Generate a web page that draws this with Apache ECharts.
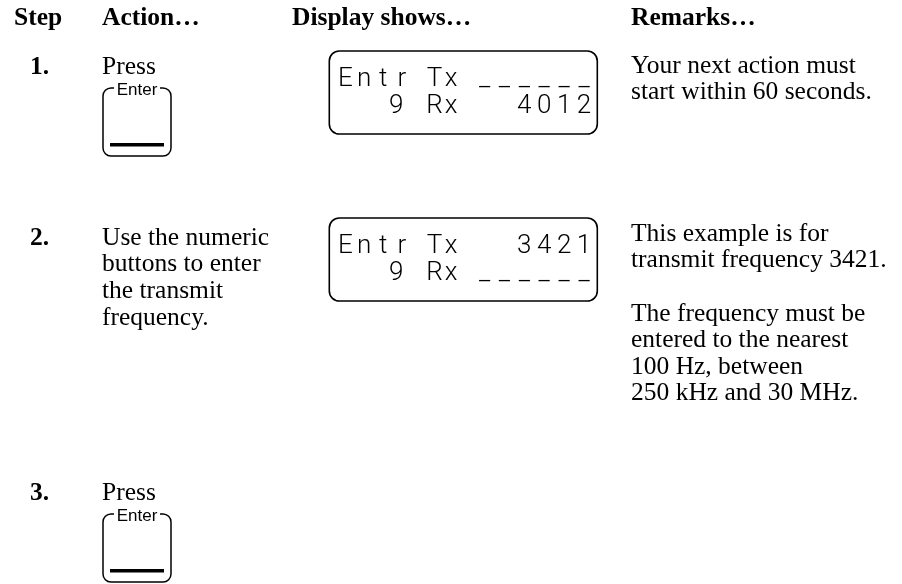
<!DOCTYPE html>
<html>
<head>
<meta charset="utf-8">
<script src="https://cdn.jsdelivr.net/npm/echarts@6/dist/echarts.min.js"></script>
<style>
  html, body { margin: 0; padding: 0; background: #ffffff; }
  #chart { width: 902px; height: 584px; }
</style>
</head>
<body>
<div id="chart"></div>
<script>
// ---- content ----
var headers = ['Step', 'Action…', 'Display shows…', 'Remarks…'];
var stepNumbers = ['1.', '2.', '3.'];
var actionLines = [
  ['Press'],
  ['Use the numeric', 'buttons to enter', 'the transmit', 'frequency.'],
  ['Press']
];
var actionHasButton = [true, false, true];
var buttonLabel = 'Enter';
// display contents: per line, [left word, middle word, right-aligned field]
var displayLines = [
  [['Entr', 'Tx', '______'], ['9', 'Rx', '4012']],
  [['Entr', 'Tx', '3421'], ['9', 'Rx', '______']],
  null
];
var remarkParagraphs = [
  [['Your next action must', 'start within 60 seconds.']],
  [['This example is for', 'transmit frequency 3421.'],
   ['The frequency must be', 'entered to the nearest', '100 Hz, between', '250 kHz and 30 MHz.']],
  []
];

(function () {
// ---- layout ----
var W = 902, H = 584;
var serif = '"Liberation Serif", "Times New Roman", serif';
var sans = '"Liberation Sans", Arial, sans-serif';
var lcdFont = 'Roboto, "DejaVu Sans", sans-serif';
var fs = 25.5;
var colX = [14, 102, 292, 631];
var stepX = 30;
var headerBaseline = 26;
var rowBaseline = [75, 246, 501];
var remarkBaseline = [74, 242, 0];
var lineH = 26.6;
var baseOff = 8;
var btn = { x: 103, w: 68, h: 68, top: 13, r: 8 };
var disp = { x: 329.3, w: 268, h: 83, r: 10, tops: [51, 218] };
// LCD glyph placement (centre of each character cell, relative to box left)
var lcd = {
  size: 26,
  lineMid: [28.3, 55.7],
  firstCentre: [16, 66.9],
  firstPitch: 18.9,
  midCentre: 105.2,
  midPitch: 16.7,
  rightLastCentre: 254.7,
  rightPitch: 19.9
};

function txt(s, x, yBase, bold) {
  return {
    type: 'text', x: x, y: yBase - baseOff,
    style: {
      text: s, fill: '#000', fontFamily: serif, fontSize: fs,
      fontWeight: bold ? 'bold' : 'normal',
      align: 'left', verticalAlign: 'middle'
    }
  };
}
function lcdChar(ch, x, y) {
  return { type: 'text', x: x, y: y,
    style: { text: ch, fontFamily: lcdFont, fontSize: lcd.size, fontWeight: 300, fill: '#000',
      align: 'center', verticalAlign: 'middle' } };
}

var els = [];
for (var i = 0; i < headers.length; i++) els.push(txt(headers[i], colX[i], headerBaseline, true));

for (var r = 0; r < stepNumbers.length; r++) {
  var b = rowBaseline[r];
  els.push(txt(stepNumbers[r], stepX, b, true));
  for (var k = 0; k < actionLines[r].length; k++) els.push(txt(actionLines[r][k], colX[1], b + k * lineH, false));
  if (actionHasButton[r]) {
    var bTop = b + btn.top;
    els.push({ type: 'rect',
      shape: { x: btn.x, y: bTop, width: btn.w, height: btn.h, r: btn.r },
      style: { fill: 'transparent', stroke: '#000', lineWidth: 1.5 } });
    els.push({ type: 'rect',
      shape: { x: btn.x + 7, y: bTop + 55, width: btn.w - 14, height: 3.5 },
      style: { fill: '#000' } });
    els.push({ type: 'rect',
      shape: { x: btn.x + 11, y: bTop - 3, width: btn.w - 22, height: 6 },
      style: { fill: '#fff' } });
    els.push({ type: 'text', x: btn.x + btn.w / 2, y: bTop + 2,
      style: { text: buttonLabel, fontFamily: sans, fontSize: 17, fill: '#000',
        align: 'center', verticalAlign: 'middle' } });
  }
  if (displayLines[r]) {
    var dTop = disp.tops[r];
    els.push({ type: 'rect',
      shape: { x: disp.x, y: dTop, width: disp.w, height: disp.h, r: disp.r },
      style: { fill: 'transparent', stroke: '#000', lineWidth: 1.6 } });
    for (var li = 0; li < displayLines[r].length; li++) {
      var toks = displayLines[r][li];
      var y = dTop + lcd.lineMid[li];
      var c;
      for (c = 0; c < toks[0].length; c++)
        els.push(lcdChar(toks[0].charAt(c), disp.x + lcd.firstCentre[li] + c * lcd.firstPitch, y));
      for (c = 0; c < toks[1].length; c++)
        els.push(lcdChar(toks[1].charAt(c), disp.x + lcd.midCentre + c * lcd.midPitch, y));
      var n = toks[2].length;
      for (c = 0; c < n; c++)
        els.push(lcdChar(toks[2].charAt(c), disp.x + lcd.rightLastCentre - (n - 1 - c) * lcd.rightPitch, y));
    }
  }
  var k2 = 0;
  for (var pi = 0; pi < remarkParagraphs[r].length; pi++) {
    if (pi > 0) k2 += 1;
    var para = remarkParagraphs[r][pi];
    for (var q = 0; q < para.length; q++) { els.push(txt(para[q], colX[3], remarkBaseline[r] + k2 * lineH, false)); k2++; }
  }
}

var chart = echarts.init(document.getElementById('chart'), null, { renderer: 'canvas', width: W, height: H });
chart.setOption({
  backgroundColor: '#ffffff',
  animation: false,
  graphic: { elements: els }
});
})();
</script>
</body>
</html>
